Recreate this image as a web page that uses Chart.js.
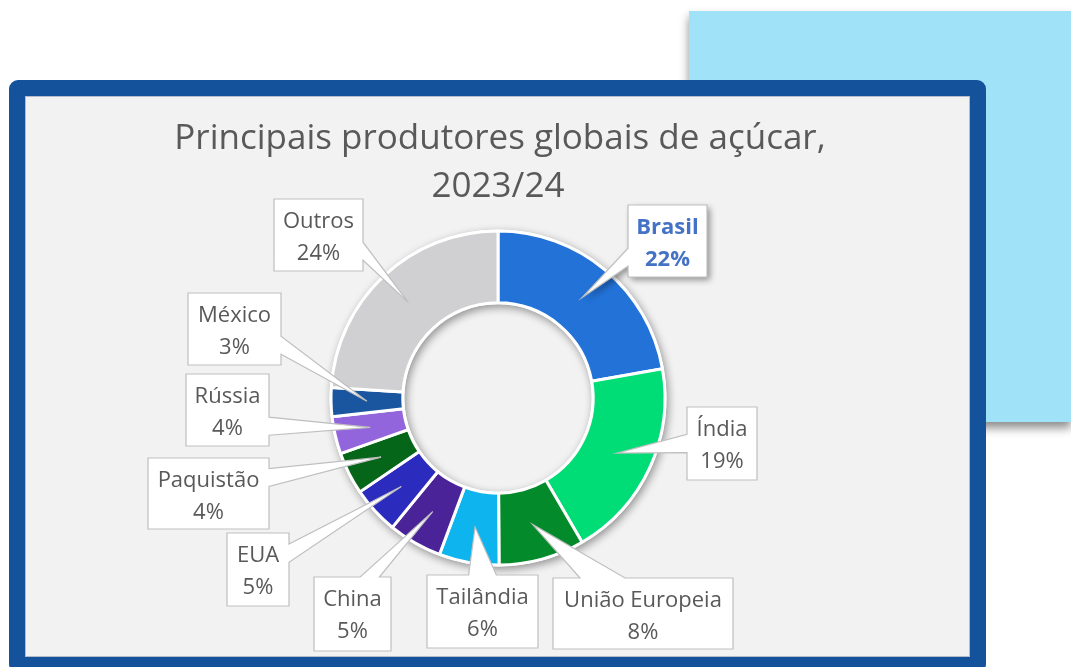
<!DOCTYPE html>
<html lang="pt">
<head>
<meta charset="utf-8">
<script src="https://cdn.jsdelivr.net/npm/chart.js@4.4.1/dist/chart.umd.min.js"></script>
<style>
  body { margin: 0; background: #fff; width: 1071px; height: 667px; overflow: hidden; position: relative; }
  #bgBlue { position: absolute; left: 689px; top: 11px; width: 382px; height: 411px; background: #a0e2f8; box-shadow: 0 6px 9px rgba(0,0,0,0.45); }
  #panel { position: absolute; left: 9px; top: 80px; width: 945px; height: 561px; border: 16px solid #14529c; border-radius: 9px; background: #f2f2f2; box-shadow: inset 0 0 0 1px #b4bccb; }
  #chart { position: absolute; left: 0; top: 0; }
</style>
</head>
<body>
<div id="bgBlue"></div>
<div id="panel"></div>
<canvas id="chart" width="1071" height="667"></canvas>
<script>
// dados (% da produção mundial de açúcar, 2023/24)
const countries = ['Brasil', 'Índia', 'União Europeia', 'Tailândia', 'China', 'EUA', 'Paquistão', 'Rússia', 'México', 'Outros'];
const shares = [22.2, 19.4, 8.3, 5.8, 5.2, 4.6, 4.1, 3.6, 2.8, 24.0];
const sliceColors = ['#2272d8', '#00dd77', '#038a2a', '#0db4ee', '#4b2399', '#2b2cbe', '#056518', '#9265dd', '#1a56a0', '#d0cfd1'];
const titleLines = ['Principais produtores globais de açúcar,', '2023/24'];

// caixas dos rótulos [x, y, largura, altura]
const labelBoxes = [
    [628, 205, 79, 72],
    [687, 407, 70, 73],
    [553, 578, 180, 71],
    [427, 575, 111, 73],
    [314, 577, 77, 74],
    [227, 533, 62, 73],
    [148, 458, 121, 71],
    [186, 374, 83, 72],
    [188, 293, 93, 72],
    [274, 199, 89, 72]
];

const FONT = "'Open Sans', 'Segoe UI', sans-serif";

// --- SOMBRA DO ANEL ---
const ringShadow = {
    id: 'ringShadow',
    beforeDatasetsDraw(chart) {
        const arc = chart.getDatasetMeta(0).data[0];
        if (!arc) return;
        const { x, y, outerRadius, innerRadius } = arc;
        const ctx = chart.ctx;
        ctx.save();
        ctx.shadowColor = 'rgba(0,0,0,0.4)';
        ctx.shadowBlur = 9;
        ctx.shadowOffsetX = 2;
        ctx.shadowOffsetY = 3;
        ctx.beginPath();
        ctx.arc(x, y, outerRadius + 1.5, 0, Math.PI * 2);
        ctx.arc(x, y, innerRadius - 1.5, 0, Math.PI * 2, true);
        ctx.fillStyle = '#fff';
        ctx.fill();
        ctx.restore();
    }
};

// polígono caixa + cunha apontando para a fatia
function calloutPath(ctx, box, tip) {
    const [x, y, w, h] = box;
    const r = x + w, b = y + h;
    const ex = tip.x > r ? tip.x - r : (tip.x < x ? x - tip.x : 0);
    const ey = tip.y > b ? tip.y - b : (tip.y < y ? y - tip.y : 0);
    let side;
    if (ex > ey) side = tip.x > r ? 'right' : 'left';
    else side = tip.y > b ? 'bottom' : 'top';

    const span = (start, len, c) => {
        const t = (c - start) / len;
        if (t < 0.35) return [start + len * 0.15, start + len * 0.40];
        if (t > 0.65) return [start + len * 0.60, start + len * 0.85];
        return [start + len * 0.375, start + len * 0.625];
    };

    ctx.beginPath();
    ctx.moveTo(x, y);
    if (side === 'top') {
        const [a1, a2] = span(x, w, tip.x);
        ctx.lineTo(a1, y); ctx.lineTo(tip.x, tip.y); ctx.lineTo(a2, y);
    }
    ctx.lineTo(r, y);
    if (side === 'right') {
        const [a1, a2] = span(y, h, tip.y);
        ctx.lineTo(r, a1); ctx.lineTo(tip.x, tip.y); ctx.lineTo(r, a2);
    }
    ctx.lineTo(r, b);
    if (side === 'bottom') {
        const [a1, a2] = span(x, w, tip.x);
        ctx.lineTo(a2, b); ctx.lineTo(tip.x, tip.y); ctx.lineTo(a1, b);
    }
    ctx.lineTo(x, b);
    if (side === 'left') {
        const [a1, a2] = span(y, h, tip.y);
        ctx.lineTo(x, a2); ctx.lineTo(tip.x, tip.y); ctx.lineTo(x, a1);
    }
    ctx.closePath();
}

// --- RÓTULOS E TÍTULO ---
const callouts = {
    id: 'callouts',
    afterDatasetsDraw(chart) {
        const ctx = chart.ctx;
        const arcs = chart.getDatasetMeta(0).data;
        const total = shares.reduce((s, v) => s + v, 0);

        arcs.forEach((arc, i) => {
            const tip = arc.tooltipPosition();
            const box = labelBoxes[i];
            const highlight = i === 0;
            ctx.save();
            calloutPath(ctx, box, tip);
            if (highlight) {
                ctx.shadowColor = 'rgba(0,0,0,0.4)';
                ctx.shadowBlur = 6;
                ctx.shadowOffsetX = 3;
                ctx.shadowOffsetY = 3;
            }
            ctx.fillStyle = '#fff';
            ctx.fill();
            ctx.shadowColor = 'transparent';
            ctx.lineWidth = 1.2;
            ctx.strokeStyle = '#bfbfbf';
            ctx.stroke();

            const cx = box[0] + box[2] / 2;
            ctx.fillStyle = highlight ? '#4472c4' : '#595959';
            ctx.font = (highlight ? 'bold ' : '') + '22px ' + FONT;
            ctx.textAlign = 'center';
            ctx.textBaseline = 'middle';
            ctx.fillText(countries[i], cx, box[1] + 23);
            ctx.fillText(Math.round(shares[i] / total * 100) + '%', cx, box[1] + 55);
            ctx.restore();
        });

        ctx.save();
        ctx.fillStyle = '#595959';
        ctx.font = '35px ' + FONT;
        ctx.textAlign = 'center';
        ctx.textBaseline = 'middle';
        ctx.fillText(titleLines[0], 500, 139);
        ctx.fillText(titleLines[1], 498, 187);
        ctx.restore();
    }
};

new Chart(document.getElementById('chart'), {
    type: 'doughnut',
    data: {
        labels: countries,
        datasets: [{
            data: shares,
            backgroundColor: sliceColors,
            borderColor: '#ffffff',
            borderWidth: 3,
            radius: 167,
            hoverOffset: 0
        }]
    },
    options: {
        responsive: false,
        animation: false,
        cutout: '57%',
        layout: { padding: { left: 331, right: 406, top: 231, bottom: 102 } },
        plugins: {
            legend: { display: false },
            tooltip: { enabled: false },
            title: { display: false }
        }
    },
    plugins: [ringShadow, callouts]
});
</script>
</body>
</html>
